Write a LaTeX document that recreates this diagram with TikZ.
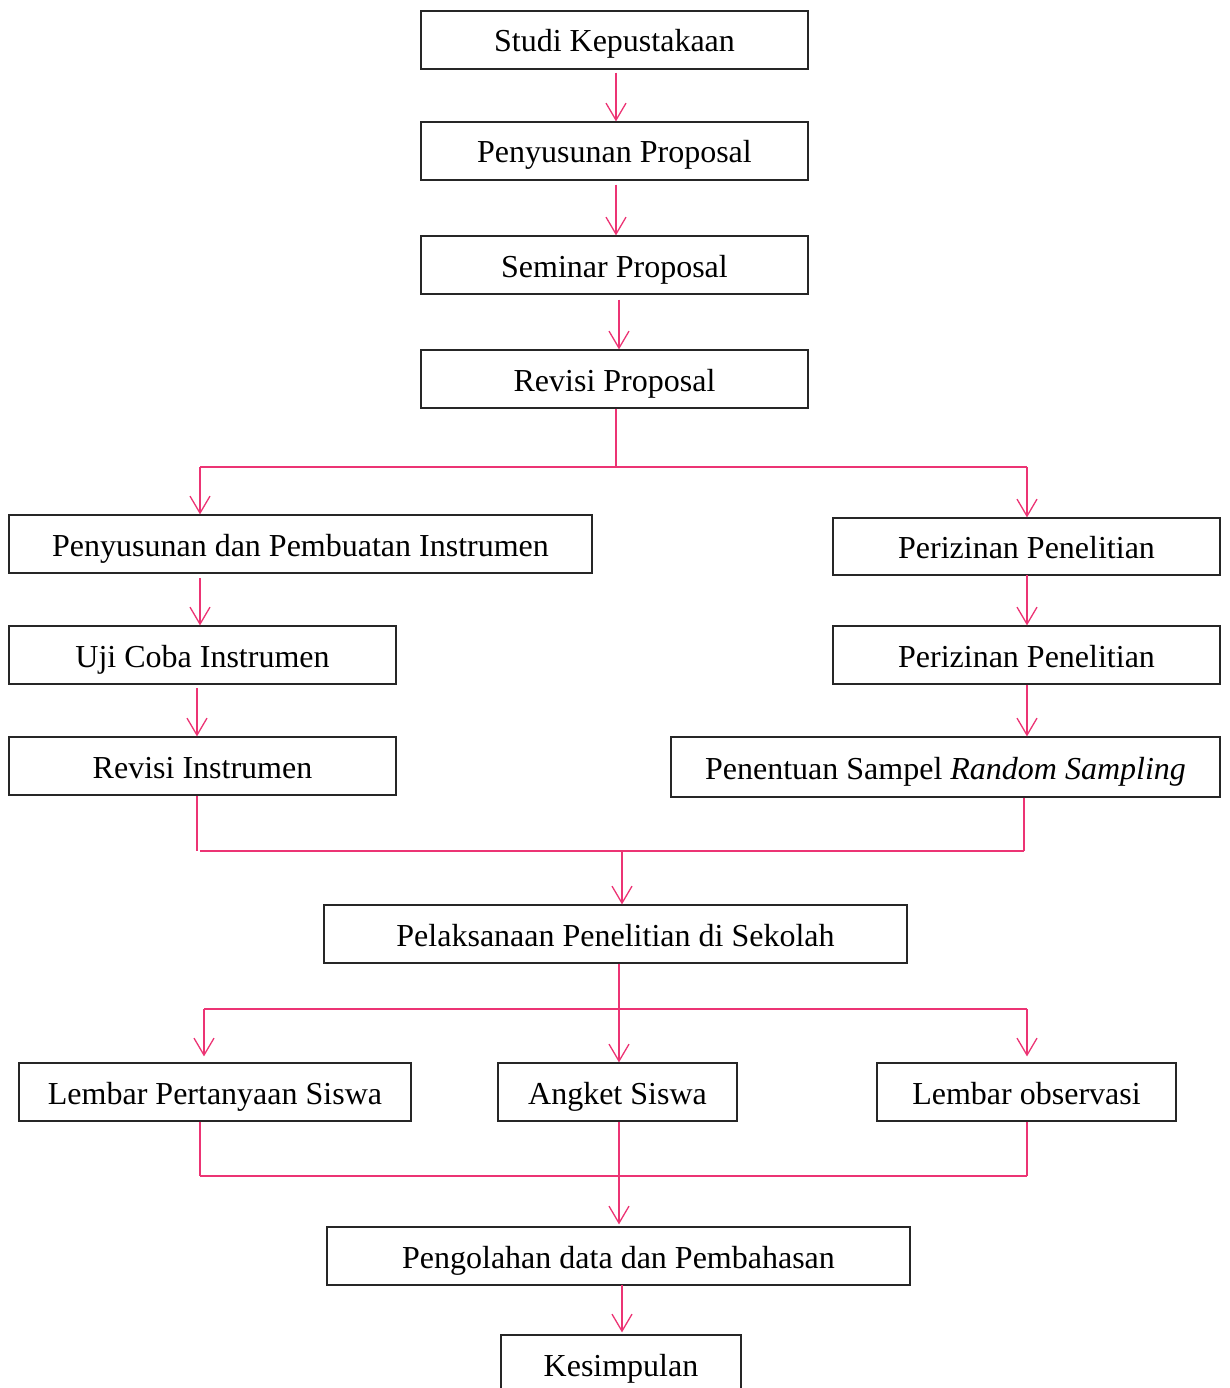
\documentclass[tikz,border=0pt]{standalone}
\usepackage{fontspec}
\setmainfont{Liberation Serif}
\usetikzlibrary{arrows.meta,calc}
\definecolor{pinkc}{RGB}{236,52,116}
\begin{document}
\begin{tikzpicture}[x=1pt,y=-1pt,
  box/.style={draw=black!85,line width=1.2pt,inner sep=0pt,minimum height=58pt,text height=24pt,text depth=0pt,font=\fontsize{32}{37}\selectfont},
  ln/.style={draw=pinkc,line width=1.3pt},
  arr/.style={ln,-{Straight Barb[length=17pt,width=20pt,line width=1.3pt]}}]
\useasboundingbox (0,0) rectangle (1230,1388);
\clip (0,0) rectangle (1230,1388);
\node[box,minimum width=387pt] (n1) at (614.5,40) {Studi Kepustakaan};
\node[box,minimum width=387pt] (n2) at (614.5,151) {Penyusunan Proposal};
\node[box,minimum width=387pt] (n3) at (614.5,265) {Seminar Proposal};
\node[box,minimum width=387pt] (n4) at (614.5,379) {Revisi Proposal};
\node[box,minimum width=583pt] (n5) at (300.5,544) {Penyusunan dan Pembuatan Instrumen};
\node[box,minimum width=387pt,minimum height=57pt] (n6) at (1026.5,546.5) {Perizinan Penelitian};
\node[box,minimum width=387pt] (n7) at (202.5,655) {Uji Coba Instrumen};
\node[box,minimum width=387pt] (n8) at (1026.5,655) {Perizinan Penelitian};
\node[box,minimum width=387pt] (n9) at (202.5,766) {Revisi Instrumen};
\node[box,minimum width=549pt,minimum height=60pt] (n10) at (945.5,767) {Penentuan Sampel \textit{Random Sampling}};
\node[box,minimum width=583pt] (n11) at (615.5,934) {Pelaksanaan Penelitian di Sekolah};
\node[box,minimum width=392pt] (n12) at (215,1092) {Lembar Pertanyaan Siswa};
\node[box,minimum width=239pt] (n13) at (617.5,1092) {Angket Siswa};
\node[box,minimum width=299pt] (n14) at (1026.5,1092) {Lembar observasi};
\node[box,minimum width=583pt] (n15) at (618.5,1256) {Pengolahan data dan Pembahasan};
\node[box,minimum width=240pt] (n16) at (621,1364) {Kesimpulan};
% top chain
\draw[arr] ([xshift=1.5pt,yshift=-3pt]n1.south) -- ([xshift=1.5pt]n2.north);
\draw[arr] ([xshift=1.5pt,yshift=-4pt]n2.south) -- ([xshift=1.5pt]n3.north);
\draw[arr] ([xshift=4.5pt,yshift=-5pt]n3.south) -- ([xshift=4.5pt]n4.north);
% split after Revisi Proposal
\coordinate (s1) at (616,467);
\coordinate (s1l) at (200,467);
\coordinate (s1r) at (1027,467);
\draw[ln] ([xshift=1.5pt]n4.south) -- (s1);
\draw[ln] (s1l) -- (s1r);
\draw[arr] (s1l) -- (s1l |- n5.north);
\draw[arr] (s1r) -- (s1r |- n6.north);
% left column
\coordinate (c5) at (200,578);
\draw[arr] (c5) -- (c5 |- n7.north);
\coordinate (c7) at (197,688);
\draw[arr] (c7) -- (c7 |- n9.north);
% right column
\coordinate (c6) at (1027,575);
\draw[arr] (c6) -- (c6 |- n8.north);
\draw[arr] (c6 |- n8.south) -- (c6 |- n10.north);
% merge into Pelaksanaan
\coordinate (m1l) at (197,851);
\coordinate (m1r) at (1024,851);
\coordinate (m1c) at (622,851);
\draw[ln] (m1l |- n9.south) -- (m1l);
\draw[ln] (m1r |- n10.south) -- (m1r);
\draw[ln] (200,851) -- (m1r);
\draw[arr] (m1c) -- (m1c |- n11.north);
% split after Pelaksanaan
\coordinate (s2l) at (204,1009);
\coordinate (s2r) at (1027,1009);
\coordinate (s2c) at (619,1009);
\draw[ln] (s2l) -- (s2r);
\draw[arr] (s2c |- n11.south) -- (s2c |- n13.north);
\draw[arr] (s2l) -- ([yshift=6pt]s2l |- n12.north);
\draw[arr] (s2r) -- ([yshift=6pt]s2r |- n14.north);
% merge into Pengolahan
\coordinate (m2l) at (200,1176);
\coordinate (m2r) at (1027,1176);
\coordinate (m2c) at (619,1176);
\draw[ln] (m2l |- n12.south) -- (m2l);
\draw[ln] (m2r |- n14.south) -- (m2r);
\draw[ln] (m2l) -- (m2r);
\draw[arr] (m2c |- n13.south) -- ([yshift=2pt]m2c |- n15.north);
% final
\coordinate (c15) at (622,1285);
\draw[arr] (c15) -- ([yshift=2pt]c15 |- n16.north);
\end{tikzpicture}
\end{document}
